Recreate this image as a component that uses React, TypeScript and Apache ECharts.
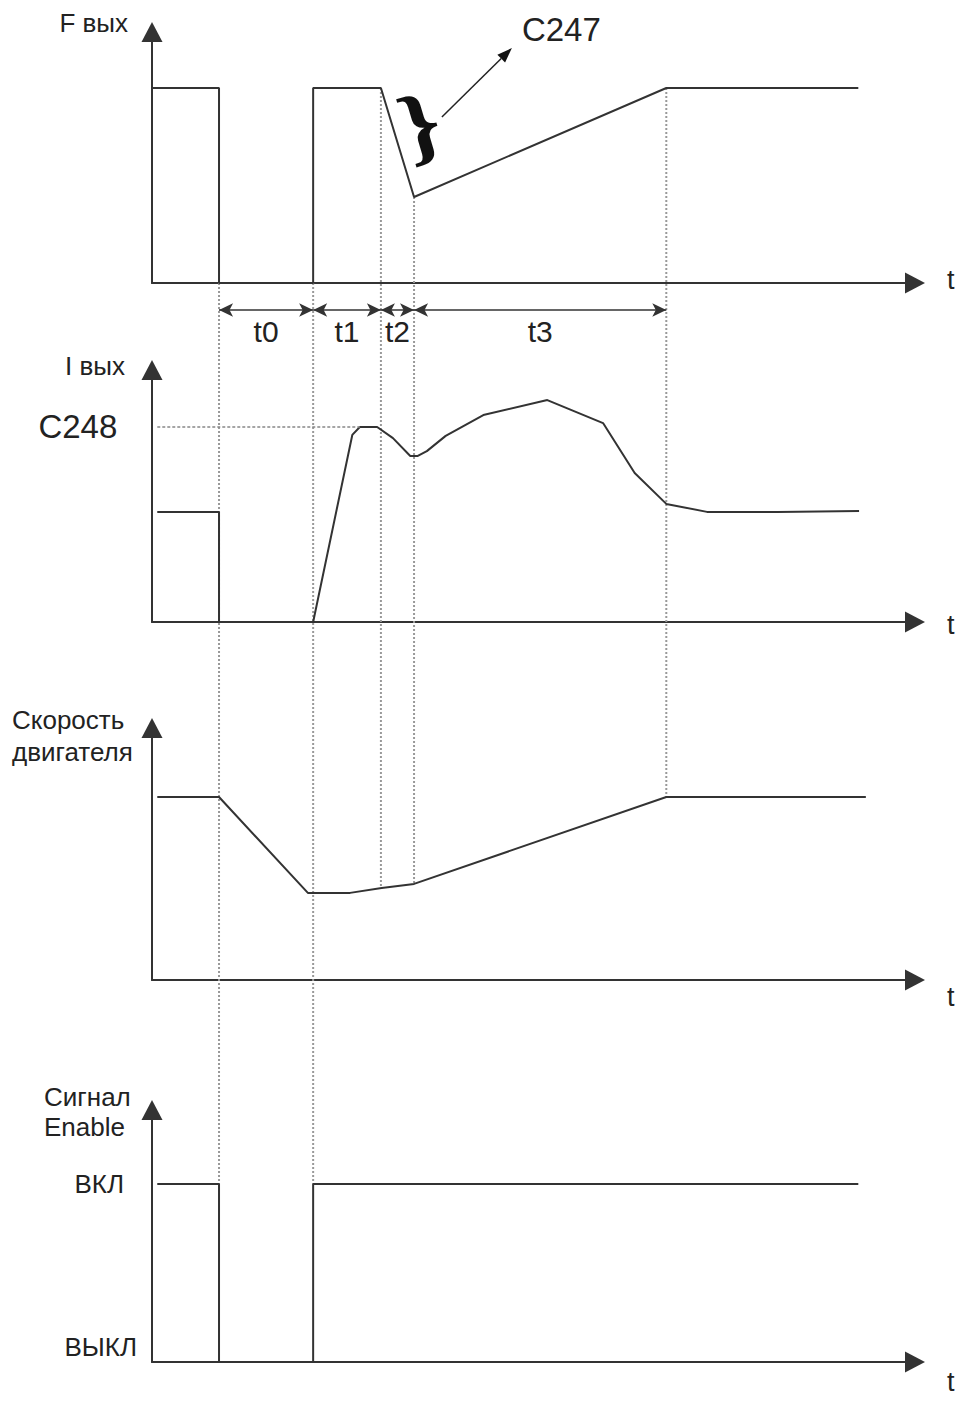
import React, { useEffect, useRef } from 'react';
import * as echarts from 'echarts';

// ---- data (time in arbitrary units 0..100 along the common time axis) ----
const TIME_MAX = 100;

// F вых (output frequency), 0..100 units
const fTimes = [0, 8.9, 8.9, 21.4, 21.4, 30.4, 34.8, 68.3, 93.8];
const fValues = [80.9, 80.9, 0, 0, 80.9, 80.9, 35.7, 80.9, 80.9];

// I вых (output current)
const iTimes = [0.7, 8.9, 8.9, 21.4, 26.6, 27.6, 29.9, 32.0, 34.3, 35.3, 36.5, 39.0, 44.0, 52.5, 59.9, 64.1, 68.3, 73.7, 83.1, 93.9];
const iValues = [45.5, 45.5, 0, 0, 77.3, 80.6, 80.6, 76.0, 68.6, 68.6, 70.6, 76.9, 85.5, 91.7, 82.2, 61.6, 48.8, 45.5, 45.5, 45.9];
const C248_LEVEL = 80.6;
const C248_END = 27.6;

// Скорость двигателя (motor speed)
const speedTimes = [0.7, 8.9, 20.7, 26.3, 30.5, 34.8, 68.3, 94.8];
const speedValues = [75.6, 75.6, 36.0, 36.0, 38.0, 39.7, 75.6, 75.6];

// Сигнал Enable (0 = ВЫКЛ, 1 = ВКЛ)
const enableTimes = [0.7, 8.9, 8.9, 21.4, 21.4, 93.8];
const enableValues = [1, 1, 0, 0, 1, 1];
const enableLabels = ['ВЫКЛ', 'ВКЛ'];

// intervals t0..t3
const intervalNames = ['t0', 't1', 't2', 't3'];
const intervalBounds = [8.9, 21.4, 30.4, 34.8, 68.3];

const panelYNames = ['F вых', 'I вых', '{a|Скорость}\n{a|двигателя}', '{b|Сигнал}\n{b|Enable}'];

function valueAt(times: number[], values: number[], t: number): number {
  for (let i = 0; i < times.length - 1; i++) {
    const a = times[i];
    const b = times[i + 1];
    if (t >= a && t <= b && b > a) return values[i] + ((values[i + 1] - values[i]) * (t - a)) / (b - a);
  }
  return values[values.length - 1];
}

const zip = (a: number[], b: number[]) => a.map((v, i) => [v, b[i]]);

export default function App() {
  const ref = useRef<HTMLDivElement>(null);

  useEffect(() => {
    const el = ref.current;
    if (!el) return;
    const chart = echarts.init(el, null, { renderer: 'svg' });
    const textColor = '#222';
    const lineColor = '#333';
    const font = 'Liberation Sans';

    const gridTops = [42, 380, 738, 1120];
    const gridHeights = [241, 242, 242, 242];
    const grids: any[] = gridTops.map((top, i) => ({
      left: 152,
      top,
      width: 753,
      height: gridHeights[i],
      containLabel: false,
      outerBoundsMode: 'none',
    }));
    grids.push({ left: 152, top: 300, width: 753, height: 20, containLabel: false, outerBoundsMode: 'none' });

    const axisLine = {
      show: true,
      onZero: false,
      symbol: ['none', 'triangle'],
      symbolSize: [21, 20],
      symbolOffset: [0, 10],
      lineStyle: { color: lineColor, width: 2 },
    };

    // vertical placement of the "t" names relative to each time axis
    const tAligns = ['bottom', 'top', 'top', 'top'];
    const tLineHeights = [6, 6, 34, 39];
    const xAxes: any[] = [0, 1, 2, 3].map((i) => ({
      type: 'value',
      gridIndex: i,
      min: 0,
      max: TIME_MAX,
      axisLine,
      axisTick: { show: false },
      axisLabel: { show: false },
      splitLine: { show: false },
      name: 't',
      nameLocation: 'end',
      nameGap: 42,
      nameTextStyle: {
        fontSize: 27,
        color: textColor,
        fontFamily: font,
        align: 'left',
        verticalAlign: tAligns[i],
        lineHeight: tLineHeights[i],
      },
    }));
    xAxes.push({ type: 'value', gridIndex: 4, min: 0, max: TIME_MAX, show: false });

    const yNameGaps = [19, 14, 2, 8];
    const yNamePads = [[0, 24, 0, 0], [0, 27, 0, 0], [0, 17, 0, 0], [0, 22, 0, 0]];
    const yAxes: any[] = [0, 1, 2, 3].map((i) => ({
      type: 'value',
      gridIndex: i,
      min: 0,
      max: i === 3 ? 1.36 : 100,
      interval: i === 3 ? 1 : 50,
      axisLine,
      axisTick: { show: false },
      splitLine: { show: false },
      axisLabel:
        i === 3
          ? {
              show: true,
              margin: 15,
              formatter: (v: number) => (v === 0 ? '{off|' + enableLabels[0] + '}' : v === 1 ? '{on|' + enableLabels[1] + '}' : ''),
              rich: {
                on: { fontSize: 26, color: textColor, fontFamily: font, padding: [0, 13, 0, 0] },
                off: { fontSize: 26, color: textColor, fontFamily: font, padding: [0, 0, 30, 0] },
              },
            }
          : { show: false },
      name: panelYNames[i],
      nameLocation: 'end',
      nameGap: yNameGaps[i],
      nameTextStyle: {
        fontSize: 26,
        color: textColor,
        fontFamily: font,
        align: 'right',
        verticalAlign: 'middle',
        padding: yNamePads[i],
        rich: {
          a: { width: 123, align: 'left', fontSize: 26, lineHeight: 32, color: textColor, fontFamily: font },
          b: { width: 86, align: 'left', fontSize: 26, lineHeight: 30, color: textColor, fontFamily: font },
        },
      },
    }));
    yAxes.push({ type: 'value', gridIndex: 4, min: 0, max: 1, show: false });

    const sigLine = { color: lineColor, width: 2 };

    const option: any = {
      animation: false,
      backgroundColor: '#fff',
      textStyle: { fontFamily: font },
      grid: grids,
      xAxis: xAxes,
      yAxis: yAxes,
      series: [
        { type: 'line', xAxisIndex: 0, yAxisIndex: 0, data: zip(fTimes, fValues), showSymbol: false, symbol: 'none', lineStyle: sigLine, z: 3 },
        {
          type: 'line',
          xAxisIndex: 1,
          yAxisIndex: 1,
          data: zip(iTimes, iValues),
          showSymbol: false,
          symbol: 'none',
          lineStyle: sigLine,
          z: 3,
          markLine: {
            silent: true,
            symbol: ['none', 'none'],
            lineStyle: { type: [3, 2], color: '#888', width: 1.5 },
            label: { show: true, position: 'start', formatter: 'C248', fontSize: 33, color: textColor, fontFamily: font, distance: 40 },
            data: [[{ coord: [iTimes[0], C248_LEVEL] }, { coord: [C248_END, C248_LEVEL] }]],
          },
        },
        { type: 'line', xAxisIndex: 2, yAxisIndex: 2, data: zip(speedTimes, speedValues), showSymbol: false, symbol: 'none', lineStyle: sigLine, z: 3 },
        { type: 'line', xAxisIndex: 3, yAxisIndex: 3, data: zip(enableTimes, enableValues), showSymbol: false, symbol: 'none', lineStyle: sigLine, z: 3 },
        {
          type: 'line',
          xAxisIndex: 4,
          yAxisIndex: 4,
          data: [[intervalBounds[0], 0.5], [intervalBounds[intervalBounds.length - 1], 0.5]],
          showSymbol: false,
          symbol: 'none',
          lineStyle: { opacity: 0 },
          markLine: {
            silent: true,
            symbol: ['arrow', 'arrow'],
            symbolSize: [10, 14],
            lineStyle: { type: 'solid', color: lineColor, width: 1.5 },
            label: { show: true, position: 'insideMiddleBottom', formatter: '{b}', fontSize: 30, color: textColor, fontFamily: font, distance: 6 },
            data: intervalNames.map((n, k) => [
              { name: n, coord: [intervalBounds[k], 0.5] },
              { coord: [intervalBounds[k + 1], 0.5] },
            ]),
          },
        },
      ],
    };
    chart.setOption(option);

    // guide lines and annotations placed through the chart's own scales
    const px = (g: number, t: number, v: number) => chart.convertToPixel({ gridIndex: g } as any, [t, v]) as number[];
    const guides = [
      { a: px(0, intervalBounds[0], 0), b: px(3, intervalBounds[0], 1) },
      { a: px(0, intervalBounds[1], 0), b: px(3, intervalBounds[1], 1) },
      ...[2, 3, 4].map((k) => {
        const t = intervalBounds[k];
        return { a: px(0, t, valueAt(fTimes, fValues, t)), b: px(2, t, valueAt(speedTimes, speedValues, t)) };
      }),
    ];
    const elements: any[] = guides.map((g) => ({
      type: 'line',
      z: 1,
      silent: true,
      shape: { x1: g.a[0], y1: g.a[1], x2: g.b[0], y2: g.b[1] },
      style: { stroke: '#999', lineWidth: 2, lineDash: [2, 2] },
    }));

    const knee = px(0, fTimes[5], fValues[5]);
    elements.push({
      type: 'text',
      z: 5,
      silent: true,
      x: knee[0] + 39,
      y: knee[1] + 36,
      rotation: 0.29,
      scaleX: 1.15,
      style: {
        text: '}',
        fontSize: 86,
        fontFamily: 'Liberation Serif',
        fontWeight: 'bold',
        fill: '#111',
        align: 'center',
        verticalAlign: 'middle',
        textAlign: 'center',
        textVerticalAlign: 'middle',
      },
    });
    const s = [knee[0] + 61, knee[1] + 29];
    const e = [knee[0] + 131, knee[1] - 40];
    const ang = Math.atan2(e[1] - s[1], e[0] - s[0]);
    const hl = 15;
    const hw = 5.5;
    const bx = e[0] - hl * Math.cos(ang);
    const by = e[1] - hl * Math.sin(ang);
    elements.push({
      type: 'line',
      z: 5,
      silent: true,
      shape: { x1: s[0], y1: s[1], x2: bx, y2: by },
      style: { stroke: '#222', lineWidth: 1.5 },
    });
    elements.push({
      type: 'polygon',
      z: 5,
      silent: true,
      shape: {
        points: [
          [e[0], e[1]],
          [bx + hw * Math.sin(ang), by - hw * Math.cos(ang)],
          [bx - hw * Math.sin(ang), by + hw * Math.cos(ang)],
        ],
      },
      style: { fill: '#111' },
    });
    elements.push({
      type: 'text',
      z: 5,
      silent: true,
      x: e[0] + 10,
      y: e[1] - 19,
      style: {
        text: 'C247',
        fontSize: 33,
        fontFamily: font,
        fill: textColor,
        align: 'left',
        verticalAlign: 'middle',
        textAlign: 'left',
        textVerticalAlign: 'middle',
      },
    });
    chart.setOption({ graphic: { elements } });

    return () => {
      chart.dispose();
    };
  }, []);

  return (
    <div
      ref={ref}
      style={{ position: 'absolute', left: 0, top: 0, width: 955, height: 1402, background: '#fff' }}
    />
  );
}
